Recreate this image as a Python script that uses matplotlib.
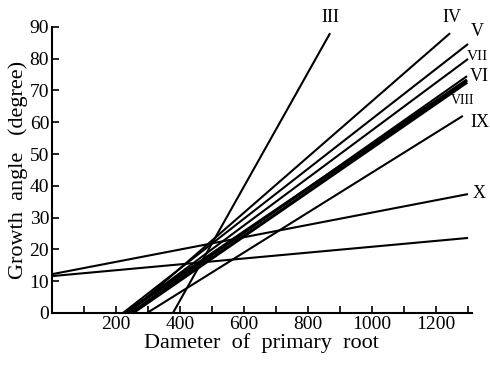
import matplotlib as mpl
import matplotlib.pyplot as plt
import numpy as np

mpl.rcParams.update({
    "font.family": "serif",
    "font.serif": ["Liberation Serif", "DejaVu Serif"],
})

# -- data: each regression line as (x0, y0) -> (x1, y1) ----------------------
line_names = ["III", "IV", "V", "VII", "VI", "VIII", "VIII", "IX", "X", ""]
x_start = [378, 240, 222, 232, 244, 228, 252, 297, 0, 0]
y_start = [0, 0, 0, 0, 0, 0, 0, 0, 12.2, 11.6]
x_end = [869, 1244, 1300, 1300, 1297, 1297, 1297, 1284, 1300, 1300]
y_end = [88, 88, 84.6, 79.9, 74.5, 73.3, 72.6, 62, 37.4, 23.6]
widths = [1.5, 1.5, 1.5, 1.5, 1.5, 2.3, 2.3, 1.5, 1.5, 1.5]

label_text = ["III", "IV", "V", "VII", "VI", "VIII", "IX", "X"]
label_x = [869, 1250, 1330, 1330, 1336, 1282, 1338, 1335]
label_y = [92.8, 92.8, 88.5, 80.8, 74.5, 66.8, 60.0, 37.7]
label_size = [13, 13, 13, 11, 13, 10, 13, 13]

fig = plt.figure(figsize=(4.9, 3.65), dpi=100)
ax = fig.add_axes([0.106, 0.1425, 0.857, 0.784])

for xs, ys, xe, ye, lw in zip(x_start, y_start, x_end, y_end, widths):
    ax.plot([xs, xe], [ys, ye], color="black", linewidth=lw,
            solid_capstyle="butt", clip_on=False)

for t, lx, ly, fs in zip(label_text, label_x, label_y, label_size):
    ax.text(lx, ly, t, fontsize=fs, ha="center", va="center", clip_on=False)

ax.set_xlim(0, 1312)
ax.set_ylim(0, 90)
ax.set_xticks(np.arange(200, 1201, 200))
ax.set_xticks(np.arange(100, 1301, 100), minor=True)
ax.set_yticks(np.arange(0, 91, 10))
ax.tick_params(axis="both", which="both", direction="in", length=5,
               width=1.2, labelsize=14, pad=2)
for s in ["top", "right"]:
    ax.spines[s].set_visible(False)
for s in ["left", "bottom"]:
    ax.spines[s].set_linewidth(1.5)

ax.set_xlabel("Dameter  of  primary  root", fontsize=16, labelpad=0)
ax.set_ylabel("Growth  angle   (degree)", fontsize=16, labelpad=1)

fig.savefig("out.png", dpi=100)
